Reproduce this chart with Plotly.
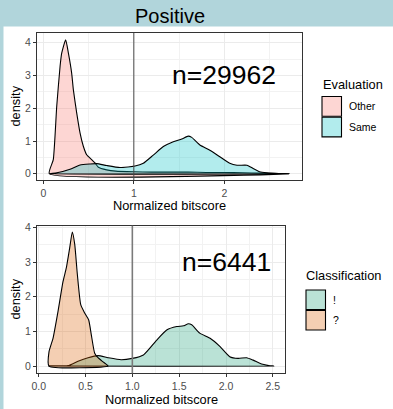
import plotly.graph_objects as go

# ---------------- data ----------------
# Top panel: "Positive", Evaluation groups
other_x = [0.066, 0.11, 0.148, 0.185, 0.203, 0.247, 0.277, 0.313, 0.332, 0.369, 0.406, 0.442,
           0.479, 0.535, 0.571, 0.608, 0.70, 0.80, 1.0, 1.2, 1.4, 1.6, 1.8, 2.0, 2.2, 2.4, 2.6, 2.72]
other_y = [0.0, 0.43, 2.06, 3.28, 3.68, 4.09, 3.68, 3.07, 2.56, 1.85, 1.24, 0.84,
           0.58, 0.43, 0.33, 0.20, 0.12, 0.08, 0.06, 0.05, 0.05, 0.05, 0.04, 0.04, 0.03, 0.02, 0.005, 0.0]
same_x = [0.066, 0.15, 0.295, 0.406, 0.516, 0.59, 0.70, 0.847, 1.013, 1.105, 1.215, 1.326, 1.436,
          1.53, 1.60, 1.64, 1.73, 1.84, 1.95, 2.06, 2.14, 2.25, 2.30, 2.39, 2.47, 2.6, 2.72]
same_y = [0.0, 0.03, 0.14, 0.27, 0.30, 0.31, 0.25, 0.19, 0.235, 0.32, 0.57, 0.83, 0.98,
          1.06, 1.15, 1.11, 0.88, 0.72, 0.52, 0.32, 0.26, 0.26, 0.19, 0.06, 0.03, 0.01, 0.0]

# Bottom panel: Classification groups
bang_x = [0.11, 0.313, 0.42, 0.527, 0.634, 0.74, 0.88, 1.0, 1.118, 1.26, 1.367, 1.474, 1.545,
          1.598, 1.634, 1.72, 1.83, 1.937, 2.04, 2.13, 2.22, 2.29, 2.38, 2.47, 2.51]
bang_y = [0.0, 0.01, 0.14, 0.24, 0.30, 0.24, 0.18, 0.22, 0.32, 0.75, 1.04, 1.14, 1.16,
          1.22, 1.19, 0.95, 0.80, 0.56, 0.27, 0.22, 0.24, 0.17, 0.06, 0.01, 0.0]
q_x = [0.11, 0.11, 0.153, 0.206, 0.26, 0.295, 0.331, 0.359, 0.385, 0.413, 0.449, 0.491, 0.534,
       0.562, 0.598, 0.634, 0.687, 0.74]
q_y = [0.0, 0.41, 0.80, 1.57, 2.44, 2.83, 3.41, 3.87, 3.51, 2.64, 1.77, 1.53, 1.33,
       0.90, 0.37, 0.24, 0.12, 0.0]

top_groups = ["Other", "Same"]
bottom_groups = ["!", "?"]
top_title = "Positive"
top_count = "n=29962"
bottom_count = "n=6441"
top_legend_title = "Evaluation"
bottom_legend_title = "Classification"
x_title = "Normalized bitscore"
y_title = "density"
threshold = 1.0

# ---------------- styling ----------------
W, H = 393, 409
FONT = "Liberation Sans, Arial, sans-serif"
fill_other = "rgba(248,118,109,0.3)"
fill_same = "rgba(0,191,196,0.3)"
fill_bang = "rgba(27,158,119,0.3)"
fill_q = "rgba(217,95,2,0.3)"
STRIP = "#b1d5db"


def px_x(p):
    return p / W


def px_y(p):
    return 1 - p / H


def closed(xs, ys):
    return list(xs) + [xs[0]], list(ys) + [ys[0]]


fig = go.Figure()


def add_density(xs, ys, fill, name, xa, ya):
    cx, cy = closed(xs, ys)
    fig.add_trace(go.Scatter(
        x=cx, y=cy, mode="lines", fill="toself", fillcolor=fill, name=name,
        line=dict(color="black", width=1.1, shape="spline", smoothing=0.5),
        xaxis=xa, yaxis=ya, showlegend=False, hoverinfo="skip"))


add_density(other_x, other_y, fill_other, top_groups[0], "x", "y")
add_density(same_x, same_y, fill_same, top_groups[1], "x", "y")
add_density(bang_x, bang_y, fill_bang, bottom_groups[0], "x2", "y2")
add_density(q_x, q_y, fill_q, bottom_groups[1], "x2", "y2")

axis_common = dict(
    showline=True, mirror=True, linecolor="#333333", linewidth=1,
    ticks="outside", ticklen=3, tickwidth=1, tickcolor="#333333",
    showgrid=True, gridcolor="#ebebeb", gridwidth=1, zeroline=False,
    tickfont=dict(family=FONT, size=10.5, color="#4d4d4d"),
    automargin=False, fixedrange=True,
)

top_dom_x = [px_x(37), px_x(301.7)]
top_dom_y = [px_y(180), px_y(33)]
bot_dom_x = [px_x(37), px_x(285)]
bot_dom_y = [px_y(373.3), px_y(225.7)]

fig.update_layout(
    width=W, height=H,
    margin=dict(l=0, r=0, t=0, b=0),
    paper_bgcolor="white", plot_bgcolor="white",
    showlegend=False,
    font=dict(family=FONT, color="black"),
    xaxis=dict(domain=top_dom_x, anchor="y", range=[-0.07, 2.855],
               tickvals=[0, 1, 2], ticktext=["0", "1", "2"],
               minor=dict(dtick=0.5, tick0=0, showgrid=True, gridcolor="#f2f2f2", gridwidth=0.6, ticklen=0),
               **axis_common),
    yaxis=dict(domain=top_dom_y, anchor="x", range=[-0.19, 4.296],
               tickvals=[0, 1, 2, 3, 4],
               minor=dict(dtick=0.5, tick0=0, showgrid=True, gridcolor="#f2f2f2", gridwidth=0.6, ticklen=0),
               **axis_common),
    xaxis2=dict(domain=bot_dom_x, anchor="y2", range=[-0.018, 2.63],
                tickvals=[0, 0.5, 1.0, 1.5, 2.0, 2.5], ticktext=["0.0", "0.5", "1.0", "1.5", "2.0", "2.5"],
                minor=dict(dtick=0.25, tick0=0, showgrid=True, gridcolor="#f2f2f2", gridwidth=0.6, ticklen=0),
                **axis_common),
    yaxis2=dict(domain=bot_dom_y, anchor="x2", range=[-0.21, 4.05],
                tickvals=[0, 1, 2, 3, 4],
                minor=dict(dtick=0.5, tick0=0, showgrid=True, gridcolor="#f2f2f2", gridwidth=0.6, ticklen=0),
                **axis_common),
)

shapes = [
    # light-blue frame (strip + left edge)
    dict(type="rect", xref="paper", yref="paper", x0=0, x1=1, y0=px_y(26.5), y1=1,
         fillcolor=STRIP, line=dict(width=0), layer="below"),
    dict(type="rect", xref="paper", yref="paper", x0=0, x1=px_x(3.5), y0=0, y1=1,
         fillcolor=STRIP, line=dict(width=0), layer="below"),
    # threshold lines
    dict(type="line", xref="x", yref="y domain", x0=threshold, x1=threshold, y0=0, y1=1,
         line=dict(color="#4a4a4a", width=1), layer="above"),
    dict(type="line", xref="x2", yref="y2 domain", x0=threshold, x1=threshold, y0=0, y1=1,
         line=dict(color="#7a7a7a", width=1.6), layer="above"),
]

annotations = [
    dict(text=top_title, xref="paper", yref="paper", x=px_x(170), y=px_y(15.5),
         showarrow=False, font=dict(size=20, color="black", family=FONT), xanchor="center", yanchor="middle"),
    dict(text=top_count, xref="x", yref="y", x=2.0, y=3.0, showarrow=False,
         font=dict(size=26.5, color="black", family=FONT), xanchor="center", yanchor="middle"),
    dict(text=bottom_count, xref="x2", yref="y2", x=2.0, y=3.0, showarrow=False,
         font=dict(size=26.5, color="black", family=FONT), xanchor="center", yanchor="middle"),
    # axis titles
    dict(text=x_title, xref="paper", yref="paper", x=px_x(169.4), y=px_y(205),
         showarrow=False, font=dict(size=12.8, color="black", family=FONT), xanchor="center", yanchor="middle"),
    dict(text=x_title, xref="paper", yref="paper", x=px_x(161), y=px_y(399),
         showarrow=False, font=dict(size=12.8, color="black", family=FONT), xanchor="center", yanchor="middle"),
    dict(text=y_title, xref="paper", yref="paper", x=px_x(15), y=px_y(106.5), textangle=-90,
         showarrow=False, font=dict(size=12.8, color="black", family=FONT), xanchor="center", yanchor="middle"),
    dict(text=y_title, xref="paper", yref="paper", x=px_x(15), y=px_y(299.5), textangle=-90,
         showarrow=False, font=dict(size=12.8, color="black", family=FONT), xanchor="center", yanchor="middle"),
]


def add_legend(title, labels, fills, title_x, title_y, key_x0, key_y0, key_w, key_h, label_x):
    annotations.append(dict(text=title, xref="paper", yref="paper", x=px_x(title_x), y=px_y(title_y),
                            showarrow=False, font=dict(size=12.8, color="black", family=FONT),
                            xanchor="left", yanchor="middle"))
    for i, (lab, fc) in enumerate(zip(labels, fills)):
        y0 = key_y0 + i * key_h
        shapes.append(dict(type="rect", xref="paper", yref="paper",
                           x0=px_x(key_x0), x1=px_x(key_x0 + key_w), y0=px_y(y0 + key_h - 0.5), y1=px_y(y0 + 0.5),
                           fillcolor=fc, line=dict(color="black", width=1.1)))
        annotations.append(dict(text=lab, xref="paper", yref="paper", x=px_x(label_x),
                                y=px_y(y0 + key_h / 2), showarrow=False,
                                font=dict(size=10.5, color="black", family=FONT),
                                xanchor="left", yanchor="middle"))


add_legend(top_legend_title, top_groups, [fill_other, fill_same],
           320.5, 84, 322, 96, 19.5, 20.7, 346.5)
add_legend(bottom_legend_title, bottom_groups, [fill_bang, fill_q],
           304, 275, 306, 289.5, 19.5, 20.5, 330.5)

fig.update_layout(shapes=shapes, annotations=annotations)
fig.write_html("out.html")
